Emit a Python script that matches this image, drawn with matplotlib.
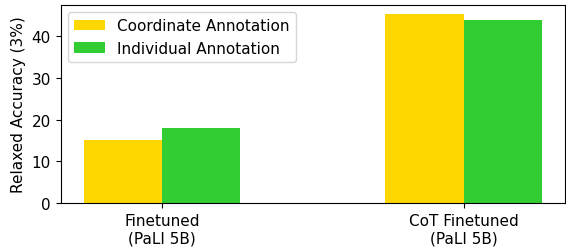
import matplotlib.pyplot as plt
import numpy as np

# datos
groups = ['Finetuned\n(PaLI 5B)', 'CoT Finetuned\n(PaLI 5B)']
coordinate = [15.1, 45.3]
individual = [18.0, 43.9]

plt.rcParams['font.size'] = 11

x = np.arange(len(groups))
width = 0.26

fig, ax = plt.subplots(figsize=(5.66, 2.53), dpi=100)
fig.subplots_adjust(left=60.7 / 566, right=565 / 566, bottom=1 - 204 / 253, top=1 - 5.7 / 253)

ax.bar(x - width / 2, coordinate, width, color='gold', label='Coordinate Annotation')
ax.bar(x + width / 2, individual, width, color='limegreen', label='Individual Annotation')

ax.set_ylabel('Relaxed Accuracy (3%)')
ax.set_xticks(x)
ax.set_xticklabels(groups)
ax.set_ylim(0, 47.6)
ax.legend(loc='upper left')

plt.savefig('out.png')
